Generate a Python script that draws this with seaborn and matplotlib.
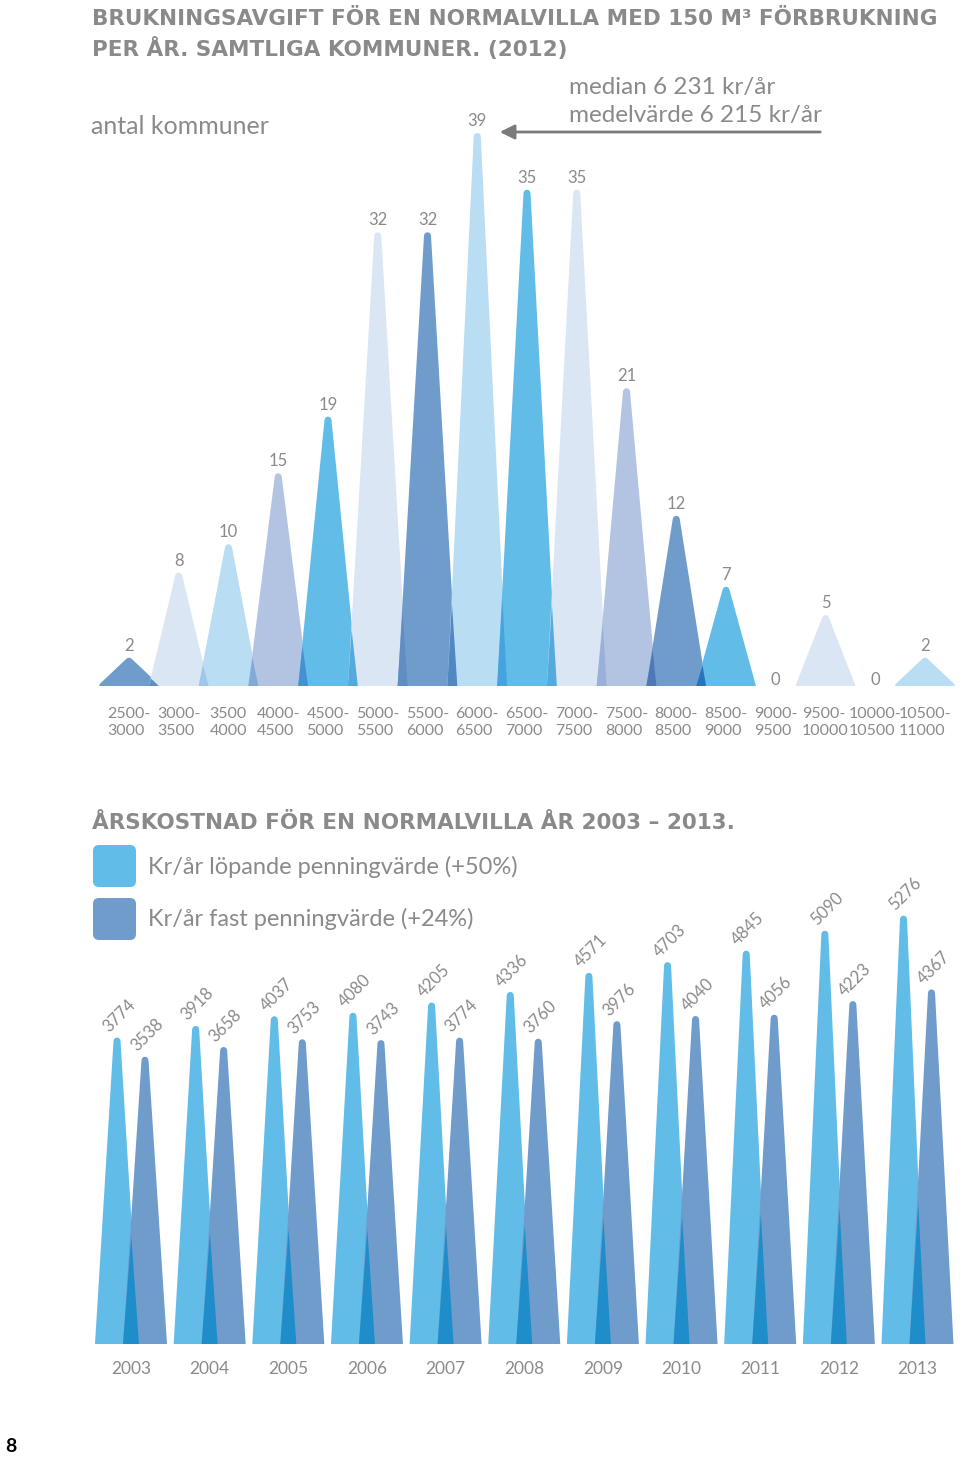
import numpy as np
import pandas as pd
import seaborn as sns
import matplotlib.pyplot as plt
from matplotlib.colors import to_rgb
from matplotlib.patches import FancyBboxPatch

# --- data -------------------------------------------------------------
bin_labels = ['2500-\n3000', '3000-\n3500', '3500\n4000', '4000-\n4500', '4500-\n5000',
              '5000-\n5500', '5500-\n6000', '6000-\n6500', '6500-\n7000', '7000-\n7500',
              '7500-\n8000', '8000-\n8500', '8500-\n9000', '9000-\n9500', '9500-\n10000',
              '10000-\n10500', '10500-\n11000']
kommuner = [2, 8, 10, 15, 19, 32, 32, 39, 35, 35, 21, 12, 7, 0, 5, 0, 2]

years = [2003, 2004, 2005, 2006, 2007, 2008, 2009, 2010, 2011, 2012, 2013]
lopande = [3774, 3918, 4037, 4080, 4205, 4336, 4571, 4703, 4845, 5090, 5276]
fast = [3538, 3658, 3753, 3743, 3774, 3760, 3976, 4040, 4056, 4223, 4367]

# --- style --------------------------------------------------------------
sns.set_style('white')
plt.rcParams['font.family'] = ['Lato', 'DejaVu Sans']
GRAY = '#8a8a8a'
STEEL, VLIGHT, LSKY, LAV, SKY = '#709ccc', '#dae6f4', '#b9ddf3', '#b3c4e3', '#62bce8'
bin_colors = [STEEL, VLIGHT, LSKY, LAV, SKY, VLIGHT, STEEL, LSKY, SKY, VLIGHT,
              LAV, STEEL, SKY, VLIGHT, VLIGHT, LSKY, LSKY]
PAIR_OVERLAP = '#1f8dc9'
TIP_R = 3.5          # px radius of the rounded peaks
LW = TIP_R * 2 * 0.72
TITLE_FONT = dict(family='DejaVu Sans', fontweight='bold', color=GRAY)


def multiply(c1, c2):
    a, b = np.array(to_rgb(c1)), np.array(to_rgb(c2))
    return tuple(a * b)


def peak(ax, x, h, hw, color, sx, sy):
    # sx, sy = pixels per data unit; shrink so the round stroke lands on the outline
    h2 = max(h - TIP_R / sy, 0.01)
    w2 = hw - TIP_R / sx
    ax.fill([x - w2, x, x + w2], [0, h2, 0], facecolor=color, edgecolor=color,
            lw=LW, joinstyle='round', zorder=2)
    return (x, h, hw)


def overlap(ax, left, right, color):
    x1, h1, w = left
    x2, h2, _ = right
    a, b = x2 - w, x1 + w
    if b <= a:
        return
    xi = (h1 * b + h2 * a) / (h1 + h2)
    yi = h2 * (xi - a) / w
    ax.fill([a, xi, b], [0, yi, 0], facecolor=color, edgecolor='none', zorder=3)


fig = plt.figure(figsize=(9.6, 14.6), dpi=100)


def rect(l, r, t, b):
    return [l / 960, 1 - b / 1460, (r - l) / 960, (b - t) / 1460]


# --- top: histogram of kommuner -----------------------------------------
ax1 = fig.add_axes(rect(85, 960, 100, 686))
sx1, sy1 = 49.75, 14.18
x0 = 129
ax1.set_xlim((85 - x0) / sx1, (960 - x0) / sx1)
ax1.set_ylim(0, (686 - 100) / sy1)

tris = []
for i, v in enumerate(kommuner):
    if v > 0:
        tris.append(peak(ax1, i, v, 0.6, bin_colors[i], sx1, sy1))
    else:
        tris.append(None)
    off = 12 if v > 0 else 6
    ax1.annotate(str(v), (i, v), xytext=(0, off * 0.72), textcoords='offset points',
                 ha='center', va='center', color=GRAY, fontsize=12)
for i in range(len(kommuner) - 1):
    if tris[i] and tris[i + 1]:
        overlap(ax1, tris[i], tris[i + 1], multiply(bin_colors[i], bin_colors[i + 1]))

ax1.set_xticks(range(len(bin_labels)))
ax1.set_xticklabels(bin_labels, fontsize=11.5, color=GRAY, multialignment='left',
                    linespacing=1.3)
ax1.tick_params(axis='x', length=0, pad=15)
ax1.set_yticks([])
sns.despine(ax=ax1, left=True, bottom=True)

# --- bottom: yearly cost --------------------------------------------------
ax2 = fig.add_axes(rect(85, 960, 870, 1344))
sx2, sy2 = 78.65, 0.0812
x0 = 131
ax2.set_xlim((85 - x0) / sx2, (960 - x0) / sx2)
ax2.set_ylim(0, (1344 - 870) / sy2)
d = 14 / sx2
hw2 = 22 / sx2
for i, (a, b) in enumerate(zip(lopande, fast)):
    t1 = peak(ax2, i - d, a, hw2, SKY, sx2, sy2)
    t2 = peak(ax2, i + d, b, hw2, STEEL, sx2, sy2)
    overlap(ax2, t1, t2, PAIR_OVERLAP)
    for x, v in ((i - d, a), (i + d, b)):
        ax2.annotate(str(v), (x, v), xytext=(1.5, 15.5), textcoords='offset points',
                     ha='center', va='center', rotation=45, color=GRAY, fontsize=12)

ax2.set_xticks(range(len(years)))
ax2.set_xticklabels([str(y) for y in years], fontsize=12.5, color=GRAY)
ax2.tick_params(axis='x', length=0, pad=12.5)
ax2.set_yticks([])
sns.despine(ax=ax2, left=True, bottom=True)

# --- text overlay in pixel coordinates ----------------------------------
ov = fig.add_axes([0, 0, 1, 1])
ov.set_xlim(0, 960)
ov.set_ylim(1460, 0)
ov.axis('off')

ov.text(92, 25, 'BRUKNINGSAVGIFT FÖR EN NORMALVILLA MED 150 M³ FÖRBRUKNING',
        fontsize=15.5, va='baseline', **TITLE_FONT)
ov.text(92, 56, 'PER ÅR. SAMTLIGA KOMMUNER. (2012)',
        fontsize=15.5, va='baseline', **TITLE_FONT)
ov.text(91, 134, 'antal kommuner', fontsize=18, color=GRAY, va='baseline')
ov.text(569, 94, 'median 6 231 kr/år', fontsize=17.5, color=GRAY, va='baseline')
ov.text(569, 122, 'medelvärde 6 215 kr/år', fontsize=17.5, color=GRAY, va='baseline')
ov.annotate('', xy=(497, 132), xytext=(823, 132),
            arrowprops=dict(arrowstyle='-|>', color='#7a7a7a', lw=2, mutation_scale=22))

ov.text(92, 829, 'ÅRSKOSTNAD FÖR EN NORMALVILLA ÅR 2003 – 2013.',
        fontsize=15.5, va='baseline', **TITLE_FONT)
ov.add_patch(FancyBboxPatch((95, 847), 39, 38, boxstyle='round,pad=2,rounding_size=6',
                            facecolor=SKY, edgecolor='none'))
ov.add_patch(FancyBboxPatch((95, 900), 39, 38, boxstyle='round,pad=2,rounding_size=6',
                            facecolor=STEEL, edgecolor='none'))
ov.text(148, 867, 'Kr/år löpande penningvärde (+50%)', fontsize=17, color=GRAY, va='center')
ov.text(148, 919, 'Kr/år fast penningvärde (+24%)', fontsize=17, color=GRAY, va='center')

ov.text(5, 1447, '8', fontsize=14, fontweight='bold', color='black', va='center')

fig.savefig('out.png', dpi=100)
